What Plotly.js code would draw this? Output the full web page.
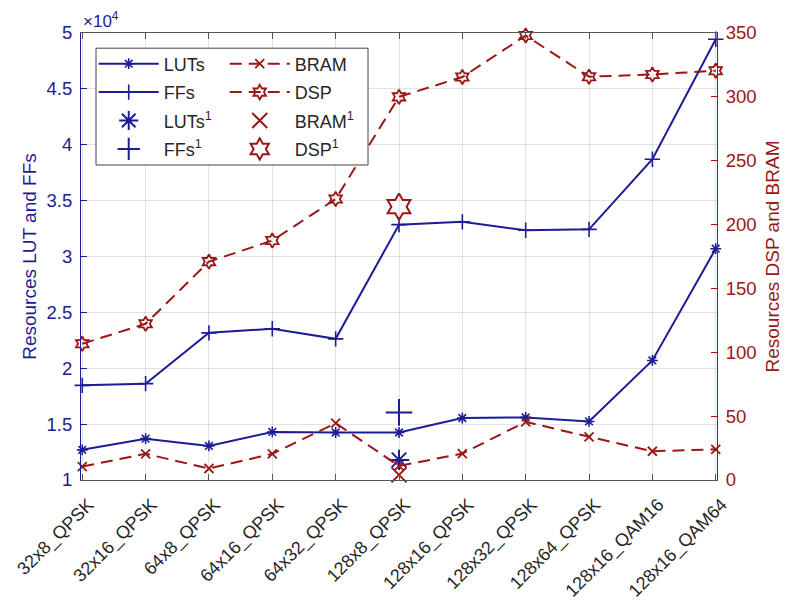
<!DOCTYPE html>
<html>
<head>
<meta charset="utf-8">
<script src="https://cdn.plot.ly/plotly-3.0.1.min.js"></script>
<style>html,body{margin:0;padding:0;background:#fff;}#chart{width:790px;height:601px;}</style>
</head>
<body>
<div id="chart"></div>
<script>
const categories = ['32x8_QPSK','32x16_QPSK','64x8_QPSK','64x16_QPSK','64x32_QPSK','128x8_QPSK','128x16_QPSK','128x32_QPSK','128x64_QPSK','128x16_QAM16','128x16_QAM64'];
const luts = [12700, 13700, 13050, 14300, 14250, 14250, 15550, 15600, 15240, 20700, 30700];
const ffs  = [18470, 18620, 23170, 23530, 22630, 32850, 33100, 32350, 32430, 38700, 49440];
const bram = [10.5, 20.5, 9, 20.5, 44.5, 11, 20.7, 45.5, 33.8, 22.5, 24];
const dsp  = [106.7, 122.3, 171, 187.5, 220, 300, 315.5, 348, 315.8, 317.5, 320.5];
const refCategory = ['128x8_QPSK'];
const luts1 = [11800];
const ffs1  = [16050];
const bram1 = [4];
const dsp1  = [214];
const leftTickVals = [10000,15000,20000,25000,30000,35000,40000,45000,50000];
const leftTickText = ['1','1.5','2','2.5','3','3.5','4','4.5','5'];

const BLUE = 'rgb(28,28,150)';
const RED = 'rgb(155,22,22)';
const FONT = 'Liberation Sans, Arial, sans-serif';

const traces = [
  {x: categories, y: luts, name: 'LUTs', mode: 'lines+markers', yaxis: 'y', legend: 'legend', legendgroup: 'a',
   line: {color: BLUE, width: 2}, marker: {symbol: 'asterisk-open', size: 9, color: BLUE, line: {color: BLUE, width: 1.6}}, cliponaxis: false},
  {x: categories, y: ffs, name: 'FFs', mode: 'lines+markers', yaxis: 'y', legend: 'legend', legendgroup: 'b',
   line: {color: BLUE, width: 2}, marker: {symbol: 'cross-thin-open', size: 11, color: BLUE, line: {color: BLUE, width: 1.6}}, cliponaxis: false},
  {x: refCategory, y: luts1, name: 'LUTs<sup>1</sup>', mode: 'markers', yaxis: 'y', legend: 'legend', legendgroup: 'c',
   marker: {symbol: 'asterisk-open', size: 17, color: BLUE, line: {color: BLUE, width: 2}}, cliponaxis: false},
  {x: refCategory, y: ffs1, name: 'FFs<sup>1</sup>', mode: 'markers', yaxis: 'y', legend: 'legend', legendgroup: 'd',
   marker: {symbol: 'cross-thin-open', size: 19, color: BLUE, line: {color: BLUE, width: 2}}, cliponaxis: false},
  {x: categories, y: bram, name: 'BRAM', mode: 'lines+markers', yaxis: 'y2', legend: 'legend2', legendgroup: 'e',
   line: {color: RED, width: 2, dash: '12px,7px'}, marker: {symbol: 'x-thin-open', size: 9, color: RED, line: {color: RED, width: 1.8}}, cliponaxis: false},
  {x: categories, y: dsp, name: 'DSP', mode: 'lines+markers', yaxis: 'y2', legend: 'legend2', legendgroup: 'f',
   line: {color: RED, width: 2, dash: '12px,7px'}, marker: {symbol: 'hexagram-open', size: 11, color: RED, line: {color: RED, width: 1.8}}, cliponaxis: false},
  {x: refCategory, y: bram1, name: 'BRAM<sup>1</sup>', mode: 'markers', yaxis: 'y2', legend: 'legend2', legendgroup: 'g',
   marker: {symbol: 'x-thin-open', size: 15, color: RED, line: {color: RED, width: 2}}, cliponaxis: false},
  {x: refCategory, y: dsp1, name: 'DSP<sup>1</sup>', mode: 'markers', yaxis: 'y2', legend: 'legend2', legendgroup: 'h',
   marker: {symbol: 'hexagram-open', size: 20, color: RED, line: {color: RED, width: 2}}, cliponaxis: false}
];

const legendCommon = {
  xref: 'paper', yref: 'paper', xanchor: 'left', yanchor: 'top', y: 0.972,
  bgcolor: 'rgba(0,0,0,0)', borderwidth: 0, font: {family: FONT, size: 18, color: '#262626'},
  traceorder: 'grouped', tracegroupgap: 2, itemwidth: 60, itemclick: false, itemdoubleclick: false
};

const layout = {
  width: 790, height: 601,
  margin: {l: 81, r: 73, t: 33, b: 121, pad: 0},
  paper_bgcolor: '#fff', plot_bgcolor: '#fff',
  font: {family: FONT, size: 17, color: '#262626'},
  showlegend: true,
  xaxis: {
    type: 'category', tickangle: -45, tickfont: {family: FONT, size: 18, color: '#262626'},
    showline: true, linecolor: '#555', linewidth: 1, mirror: 'ticks',
    ticks: 'inside', ticklen: 6, tickcolor: '#555',
    showgrid: true, gridcolor: 'rgba(0,0,0,0.11)', gridwidth: 1,
    range: [-0.02, 10.02], fixedrange: true,
    ticklabelstandoff: 6, ticklabelshift: 6
  },
  yaxis: {
    range: [10000, 50000], tickvals: leftTickVals, ticktext: leftTickText,
    tickfont: {family: FONT, size: 18.5, color: BLUE},
    showline: true, linecolor: BLUE, linewidth: 1, ticks: 'inside', ticklen: 6, tickcolor: BLUE,
    showgrid: true, gridcolor: 'rgba(0,0,0,0.11)', zeroline: false,
    title: {text: 'Resources LUT and FFs', font: {family: FONT, size: 19, color: BLUE}, standoff: 4},
    ticklabelstandoff: 4
  },
  yaxis2: {
    range: [0, 350], dtick: 50, tick0: 0, overlaying: 'y', side: 'right', anchor: 'x',
    tickfont: {family: FONT, size: 18.5, color: RED},
    showline: true, linecolor: RED, linewidth: 1, ticks: 'inside', ticklen: 6, tickcolor: RED,
    showgrid: false, zeroline: false,
    title: {text: 'Resources DSP and BRAM', font: {family: FONT, size: 19, color: RED}, standoff: 10},
    ticklabelstandoff: 4
  },
  legend: Object.assign({}, legendCommon, {x: 0.02}),
  legend2: Object.assign({}, legendCommon, {x: 0.226}),
  shapes: [
    {type: 'rect', xref: 'paper', yref: 'paper', x0: 0.0236, x1: 0.4513, y0: 0.7047, y1: 0.966,
     line: {color: '#444', width: 1}, fillcolor: '#fff', layer: 'above'}
  ],
  annotations: [
    {xref: 'paper', yref: 'paper', x: 0, y: 1, xanchor: 'left', yanchor: 'bottom', yshift: 0,
     text: '×10<sup>4</sup>', showarrow: false, font: {family: FONT, size: 17, color: BLUE}}
  ]
};

Plotly.newPlot('chart', traces, layout, {staticPlot: true, displayModeBar: false});
</script>
</body>
</html>
